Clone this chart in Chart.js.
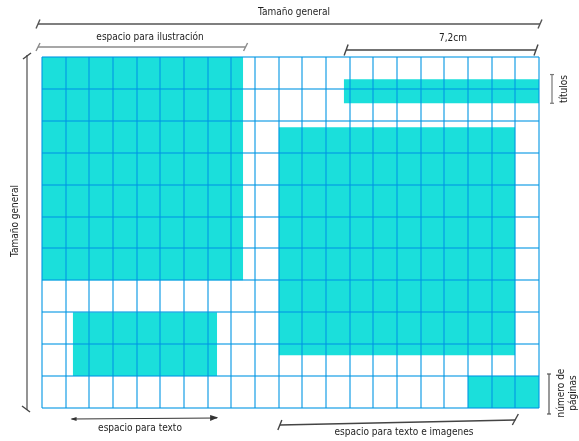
<!DOCTYPE html>
<html>
<head>
<meta charset="utf-8">
<script src="https://cdn.jsdelivr.net/npm/chart.js@4"></script>
<style>
  html, body { margin: 0; padding: 0; background: #ffffff; }
  #maqueta { display: block; }
</style>
</head>
<body>
<canvas id="maqueta" width="579" height="441"></canvas>
<script>
// grid of the page: 21 columns x 11 rows
const columnas = 21;
const filas = 11;

// filled areas of the layout, in grid units (columns from left, rows from top)
const zonas = ['ilustración', 'títulos', 'texto e imágenes', 'texto', 'número de páginas'];
const colInicio = [0, 12.75, 10, 1.3, 18];
const colFin = [8.5, 21, 20, 7.4, 21];
const filaInicio = [0, 0.7, 2.2, 8, 10];
const filaFin = [7, 1.45, 9.35, 10, 11];

const cian = '#1bdfdb';
const rejilla = 'rgba(0, 150, 228, 0.55)';
const fuente = '10px "Liberation Sans Narrow", "DejaVu Sans Condensed", sans-serif';

// one dataset per filled zone: top edge filled down to the bottom edge
let datasets = zonas.map((z, i) => ({
    label: z,
    data: [{ x: colInicio[i], y: filaInicio[i] }, { x: colFin[i], y: filaInicio[i] }],
    showLine: true,
    borderWidth: 0,
    pointRadius: 0,
    backgroundColor: cian,
    fill: { value: filaFin[i] },
}));

// measurement lines and labels around the grid
const cotas = {
    id: 'cotas',
    afterDraw(chart) {
        let ctx = chart.ctx;
        let a = chart.chartArea;

        function raya(x1, y1, x2, y2, color, ancho) {
            ctx.strokeStyle = color;
            ctx.lineWidth = ancho;
            ctx.beginPath();
            ctx.moveTo(x1, y1);
            ctx.lineTo(x2, y2);
            ctx.stroke();
        }
        function texto(t, x, y, giro) {
            ctx.save();
            ctx.translate(x, y);
            if (giro) ctx.rotate(-Math.PI / 2);
            ctx.fillStyle = '#1e1e1e';
            ctx.font = fuente;
            ctx.textAlign = 'center';
            ctx.textBaseline = 'middle';
            ctx.fillText(t, 0, 0);
            ctx.restore();
        }
        // horizontal line with slash ends
        function cotaH(x1, x2, y, color, alto) {
            raya(x1, y, x2, y, color, 1.4);
            raya(x1 - 2, y + alto / 2, x1 + 2, y - alto / 2, color, 1.4);
            raya(x2 - 2, y + alto / 2, x2 + 2, y - alto / 2, color, 1.4);
        }

        ctx.save();
        // Tamaño general (top)
        cotaH(a.left - 4, a.right + 1, 24, '#555', 9);
        texto('Tamaño general', 294, 12);
        // espacio para ilustración
        cotaH(a.left - 4, chart.scales.x.getPixelForValue(8.6), 47, '#8a8a8a', 8);
        texto('espacio para ilustración', 150, 37);
        // 7,2cm
        cotaH(chart.scales.x.getPixelForValue(12.85), a.right - 3, 50, '#444', 11);
        texto('7,2cm', 453, 38);

        // Tamaño general (left, vertical)
        raya(27, a.top - 2, 27, a.bottom + 2, '#666', 1.4);
        raya(23, a.top + 2, 31, a.top - 4, '#444', 1.4);
        raya(22, a.bottom - 2, 30, a.bottom + 4, '#444', 1.4);
        texto('Tamaño general', 15, 221, true);

        // títulos bracket
        let yt1 = chart.scales.y.getPixelForValue(0.55);
        let yt2 = chart.scales.y.getPixelForValue(1.45);
        raya(552, yt1, 552, yt2, '#777', 1.2);
        raya(550, yt1, 554, yt1, '#777', 1.2);
        raya(550, yt2, 554, yt2, '#777', 1.2);
        texto('títulos', 564, 89, true);

        // número de páginas bracket
        raya(549, 374, 549, 414, '#555', 1.2);
        raya(547, 374, 551, 374, '#555', 1.2);
        raya(547, 414, 551, 414, '#555', 1.2);
        texto('número de', 561, 393, true);
        texto('páginas', 573, 393, true);

        // espacio para texto (arrow)
        let xa1 = chart.scales.x.getPixelForValue(1.25);
        let xa2 = chart.scales.x.getPixelForValue(7.4);
        raya(xa1, 419, xa2, 418, '#333', 1);
        ctx.fillStyle = '#333';
        ctx.beginPath();
        ctx.moveTo(xa1 - 1, 419); ctx.lineTo(xa1 + 5, 417); ctx.lineTo(xa1 + 5, 421); ctx.closePath();
        ctx.fill();
        ctx.beginPath();
        ctx.moveTo(xa2 + 1, 417.5); ctx.lineTo(xa2 - 7, 415); ctx.lineTo(xa2 - 7, 421); ctx.closePath();
        ctx.fill();
        texto('espacio para texto', 140, 428);

        // espacio para texto e imagenes
        let xb1 = chart.scales.x.getPixelForValue(10.05);
        let xb2 = chart.scales.x.getPixelForValue(20);
        raya(xb1, 425, xb2, 420, '#444', 1.4);
        raya(xb1 - 2, 430, xb1 + 2, 420, '#444', 1.4);
        raya(xb2 - 3, 425, xb2 + 3, 414, '#444', 1.4);
        texto('espacio para texto e imagenes', 404, 432);
        ctx.restore();
    }
};

let chart = new Chart(document.getElementById('maqueta').getContext('2d'), {
    type: 'scatter',
    data: { datasets: datasets },
    options: {
        responsive: false,
        animation: false,
        layout: { padding: { left: 42, right: 40, top: 57, bottom: 33 } },
        plugins: { legend: { display: false }, tooltip: { enabled: false } },
        scales: {
            x: {
                type: 'linear',
                min: 0,
                max: columnas,
                ticks: { display: false, stepSize: 1 },
                border: { display: false },
                grid: { color: rejilla, lineWidth: 2, drawTicks: false, z: 1 },
            },
            y: {
                type: 'linear',
                reverse: true,
                min: 0,
                max: filas,
                ticks: { display: false, stepSize: 1 },
                border: { display: false },
                grid: { color: rejilla, lineWidth: 2, drawTicks: false, z: 1 },
            },
        },
    },
    plugins: [cotas],
});
</script>
</body>
</html>
